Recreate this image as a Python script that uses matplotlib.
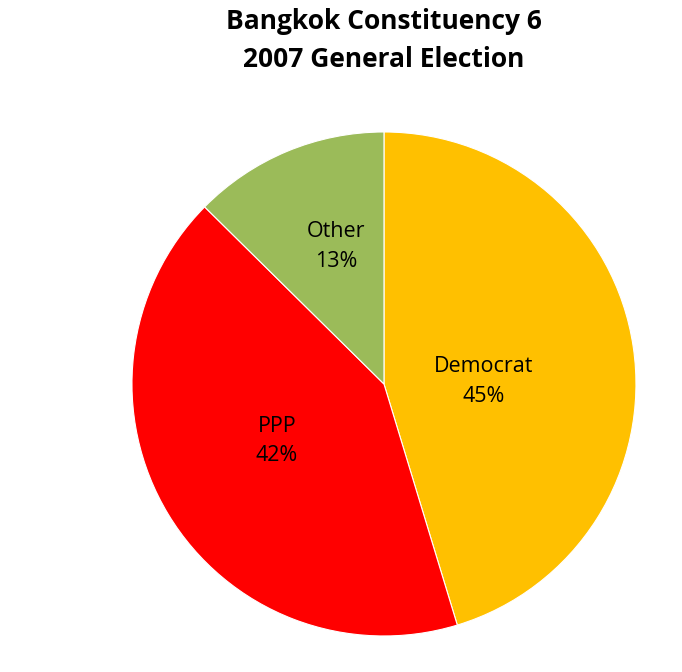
import matplotlib
matplotlib.use("Agg")
import matplotlib.pyplot as plt

parties = ["Democrat", "PPP", "Other"]
shares = [45.3, 42.1, 12.6]
colors = ["#FFC000", "#FF0000", "#9BBB59"]
title = "Bangkok Constituency 6\n2007 General Election"

plt.rcParams['font.family'] = ['Open Sans', 'DejaVu Sans']

fig = plt.figure(figsize=(6.82, 6.72), dpi=100)
ax = fig.add_axes([0.1935, 0.0536, 0.739, 0.75])

wedges, texts = ax.pie(shares, colors=colors, startangle=90, counterclock=False,
                       wedgeprops=dict(edgecolor="white", linewidth=0.8))
ax.set_xlim(-1, 1)
ax.set_ylim(-1, 1)
ax.set_aspect('auto')

# label placement (data coords inside unit pie)
label_xy = [(0.397, 0.01), (-0.425, -0.226), (-0.19, 0.544)]
for name, s, (x, y) in zip(parties, shares, label_xy):
    ax.text(x, y, f"{name}\n{s:.0f}%", ha='center', va='center', fontsize=15.5,
            linespacing=1.55, color='black')

fig.text(0.563, 0.988, title, ha='center', va='top', fontsize=19, fontweight='bold',
         linespacing=1.5)

fig.savefig("out.png", dpi=100, facecolor="white")
